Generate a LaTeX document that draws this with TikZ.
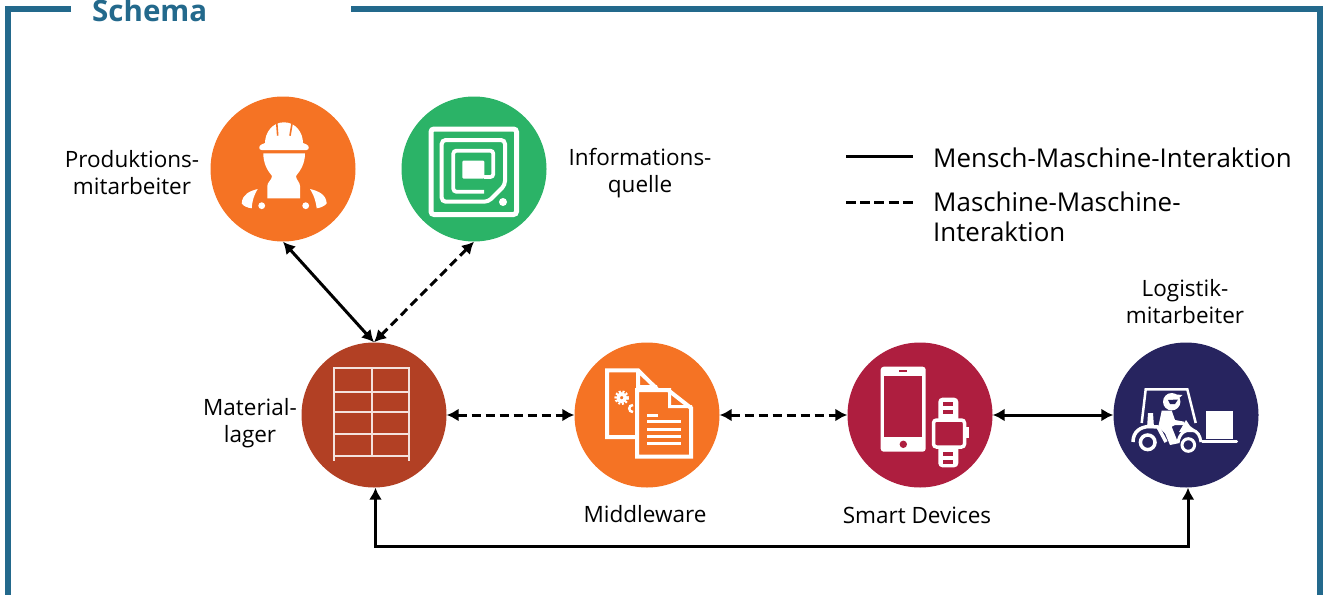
\documentclass[tikz,border=0pt]{standalone}
\usepackage{fontspec}
\setmainfont{Open Sans}
\usetikzlibrary{arrows.meta}
\definecolor{rahmen}{HTML}{23698C}
\definecolor{orangekreis}{HTML}{F57324}
\definecolor{gruenkreis}{HTML}{2BB367}
\definecolor{lagerkreis}{HTML}{B24024}
\definecolor{smartkreis}{HTML}{AE1E3F}
\definecolor{logikreis}{HTML}{27245F}
\tikzset{
    kreis/.style={circle,minimum size=145pt,inner sep=0pt},
    beschriftung/.style={align=center,inner sep=0pt,font=\fontsize{22.5}{27}\selectfont},
    legende/.style={align=left,anchor=west,inner sep=0pt,font=\fontsize{25.9}{30.5}\selectfont},
    mensch/.style={<->,line width=3pt},
    maschine/.style={<->,line width=3pt,dash pattern=on 9pt off 5pt},
    >={Latex[length=12pt,width=13pt]}
}
\begin{document}
\begin{tikzpicture}[x=1pt,y=-1pt]
    \useasboundingbox (0,0) rectangle (1324,594);

    \draw[rahmen,line width=6pt] (71,9) -- (8,9) -- (8,600) ;
    \draw[rahmen,line width=6pt] (351,9) -- (1320,9) -- (1320,600) ;
    \node[anchor=base west,inner sep=0pt,text=rahmen,font=\fontsize{29.5}{32}\selectfont\bfseries] (titel) at (92,22) {Schema} ;

    \node[kreis,fill=orangekreis] (prod) at (283,169) {} ;
    \node[kreis,fill=gruenkreis] (info) at (474,169) {} ;
    \node[kreis,fill=lagerkreis] (lager) at (374,415) {} ;
    \node[kreis,fill=orangekreis] (middle) at (647,415) {} ;
    \node[kreis,fill=smartkreis] (smart) at (920,415) {} ;
    \node[kreis,fill=logikreis] (logi) at (1186,415) {} ;

    \node[beschriftung] (prod_text) at (132,173) {Produktions-\\mitarbeiter} ;
    \node[beschriftung] (info_text) at (640,173.5) {Informations-\\quelle} ;
    \node[beschriftung] (lager_text) at (250,423) {Material-\\lager} ;
    \node[beschriftung] (middle_text) at (645,514) {Middleware} ;
    \node[beschriftung] (smart_text) at (917,515) {Smart Devices} ;
    \node[beschriftung] (logi_text) at (1185,302) {Logistik-\\mitarbeiter} ;

    \draw[mensch] (prod.south) -- (lager.north) ;
    \draw[maschine] (info.south) -- (lager.north) ;
    \draw[maschine] (lager.east) -- (middle.west) ;
    \draw[maschine] (middle.east) -- (smart.west) ;
    \draw[mensch] (smart.east) -- (logi.west) ;
    \draw[mensch] ([xshift=1.5pt]lager.south) -- ++(0,58.5) -| ([xshift=2pt]logi.south) ;

    \coordinate (leg_a) at (846,156) ;
    \coordinate (leg_b) at (913,156) ;
    \coordinate (leg_c) at (846,202) ;
    \coordinate (leg_d) at (913,202) ;
    \draw[line width=3pt] (leg_a) -- (leg_b) ;
    \draw[line width=3pt,dash pattern=on 10pt off 4.2pt] (leg_c) -- (leg_d) ;
    \node[legende] (leg_mensch) at (933,158) {Mensch-Maschine-Interaktion} ;
    \node[legende] (leg_maschine) at (933,217) {Maschine-Maschine-\\Interaktion} ;

    % Arbeiter
    \fill[white] (265,143) .. controls (265,133) and (272,122.3) .. (284,122.3) .. controls (296,122.3) and (303,133) .. (303,143) -- (306.5,144.5) .. controls (309.5,145.5) and (309.5,150) .. (306.5,150) -- (261.5,150) .. controls (258.5,150) and (258.5,145.5) .. (261.5,144.5) -- cycle ;
    \draw[orangekreis,line width=1.6pt] (276.7,122) -- (277.7,135.7) (292.3,122) -- (290,135.7) ;
    \fill[white] (263.3,153.3) -- (305,153.3) .. controls (305,163) and (301,170) .. (296,176) .. controls (296,180) and (300,182) .. (300,186) -- (300,198.3) -- (267.3,198.3) -- (267.3,186) .. controls (267.3,182) and (272,180) .. (272,176) .. controls (267,170) and (263.3,163) .. (263.3,153.3) -- cycle ;
    \fill[white] (257.7,189) .. controls (250,191) and (242.3,194) .. (241.7,203.3) .. controls (243,206) and (248,208) .. (251.7,208.3) .. controls (252,203) and (253,197) .. (257.7,189) -- cycle ;
    \fill[white] (310,189) .. controls (318,191) and (326,194) .. (326.7,203.3) .. controls (325,206) and (320,208) .. (316.7,208.3) .. controls (316,203) and (315,197) .. (310,189) -- cycle ;
    \fill[white] (261.7,205.7) circle (3.4) (305.7,205.7) circle (3.4) ;

    % Tag
    \draw[white,line width=5pt,rounded corners=3pt] (431,129) rectangle (516.5,214.5) ;
    \draw[white,line width=4pt,rounded corners=4pt] (441.7,201.7) -- (441.7,140) -- (505,140) -- (505,185) -- (488.3,201.7) -- cycle ;
    \draw[white,line width=3.8pt,rounded corners=3pt] (484,191.7) -- (453.3,191.7) -- (453.3,150.7) -- (493.3,150.7) -- (493.3,177) -- (484,177) ;
    \fill[white,rounded corners=1pt] (462.3,160.7) rectangle (484.3,178.5) ;
    \fill[white] (503,202) circle (4) ;

    % Regal
    \draw[white!85!lagerkreis,line width=2pt] (334,460.7) -- (334,368.3) -- (409,368.3) -- (409,460.7) (371.7,368.3) -- (371.7,455.7) (334,391.7) -- (409,391.7) (334,412.3) -- (409,412.3) (334,434.3) -- (409,434.3) (334,455.7) -- (409,455.7) ;

    % Dokumente
    \draw[white,line width=4pt] (636,437) -- (607,437) -- (607,370.3) -- (638,370.3) -- (657,389) (638,370.3) -- (638,387) -- (657,387) ;
    \draw[white,line width=3.5pt] (621.7,397.7) circle (3.6) ;
    \draw[white,line width=2.5pt,dash pattern=on 2pt off 1.6pt] (621.7,397.7) circle (6) ;
    \draw[white,line width=2.5pt] (633,405) .. controls (628,405) and (628,412) .. (633,412) ;
    \draw[white,fill=orangekreis,line width=4pt] (637,390) -- (668,390) -- (691,408) -- (691,456.5) -- (637,456.5) -- cycle ;
    \fill[white] (668,388) -- (668,408) -- (692,408) -- (692,405) -- (671,405) -- (671,388) -- cycle ;
    \draw[white,line width=3pt] (647.3,415) -- (658.3,415) (647.3,421.7) -- (680.7,421.7) (647.3,429) -- (680.7,429) (647.3,436.7) -- (680.7,436.7) (647.3,443.7) -- (680.7,443.7) ;

    % Telefon und Uhr
    \fill[white,rounded corners=3pt] (880.7,366.7) rectangle (925.7,451.7) ;
    \fill[smartkreis] (884.3,375.7) rectangle (922.3,436.7) ;
    \fill[smartkreis] (899.3,370) rectangle (907.3,371.6) ;
    \fill[smartkreis] (903.3,444.3) circle (3.7) ;
    \fill[white,rounded corners=4pt] (938.3,397.7) rectangle (958.3,467.3) ;
    \fill[white] (966,426.7) rectangle (969.3,438.3) ;
    \draw[white,fill=smartkreis,line width=3.5pt,rounded corners=3pt] (933.5,420) rectangle (964.5,447) ;
    \draw[smartkreis,line width=3.6pt] (943.3,404) -- (953.3,404) (943.3,411.7) -- (953.3,411.7) (943.3,454) -- (953.3,454) (943.3,461.7) -- (953.3,461.7) ;

    % Stapler
    \draw[white,line width=2.5pt] (1141.7,423) -- (1145.7,389.3) -- (1187.3,389.3) -- (1195.7,423) ;
    \fill[white] (1206,411) rectangle (1233.3,439) ;
    \draw[white,line width=2.8pt,line cap=round] (1202.3,441.7) -- (1236.7,441.7) ;
    \fill[white] (1148,413) -- (1153,413) -- (1154,428) -- (1147,428) -- cycle ;
    \draw[white,line width=3.5pt] (1133,442) .. controls (1133,432) and (1140,426.5) .. (1150,426.5) -- (1158,427) -- (1166,442) ;
    \draw[white,line width=3pt] (1178,443) .. controls (1179,433) and (1186,429) .. (1192,430) .. controls (1198,431) and (1200,436) .. (1201,442) ;
    \fill[white] (1179,432) -- (1186,420) -- (1190,426) -- (1198,432) -- cycle ;
    \fill[white] (1161.7,410.7) -- (1171.7,410.7) -- (1175,420) -- (1184.3,421.7) -- (1184.3,425) -- (1175,425) -- (1171.7,426.7) -- (1178.3,443.3) -- (1170,445) -- (1165,433.3) -- (1158.3,426.7) -- cycle ;
    \fill[white] (1171.7,401.7) circle (8.7) ;
    \fill[white] (1170,394) -- (1182.5,395) -- (1178,399) -- cycle ;
    \fill[logikreis] (1168,400) -- (1178,399.5) -- (1175,404) -- (1170,404) -- cycle ;
    \draw[white,line width=3.5pt] (1147.7,442.3) circle (7.3) ;
    \draw[white,line width=3pt] (1188.3,445) circle (6.3) ;
\end{tikzpicture}
\end{document}
